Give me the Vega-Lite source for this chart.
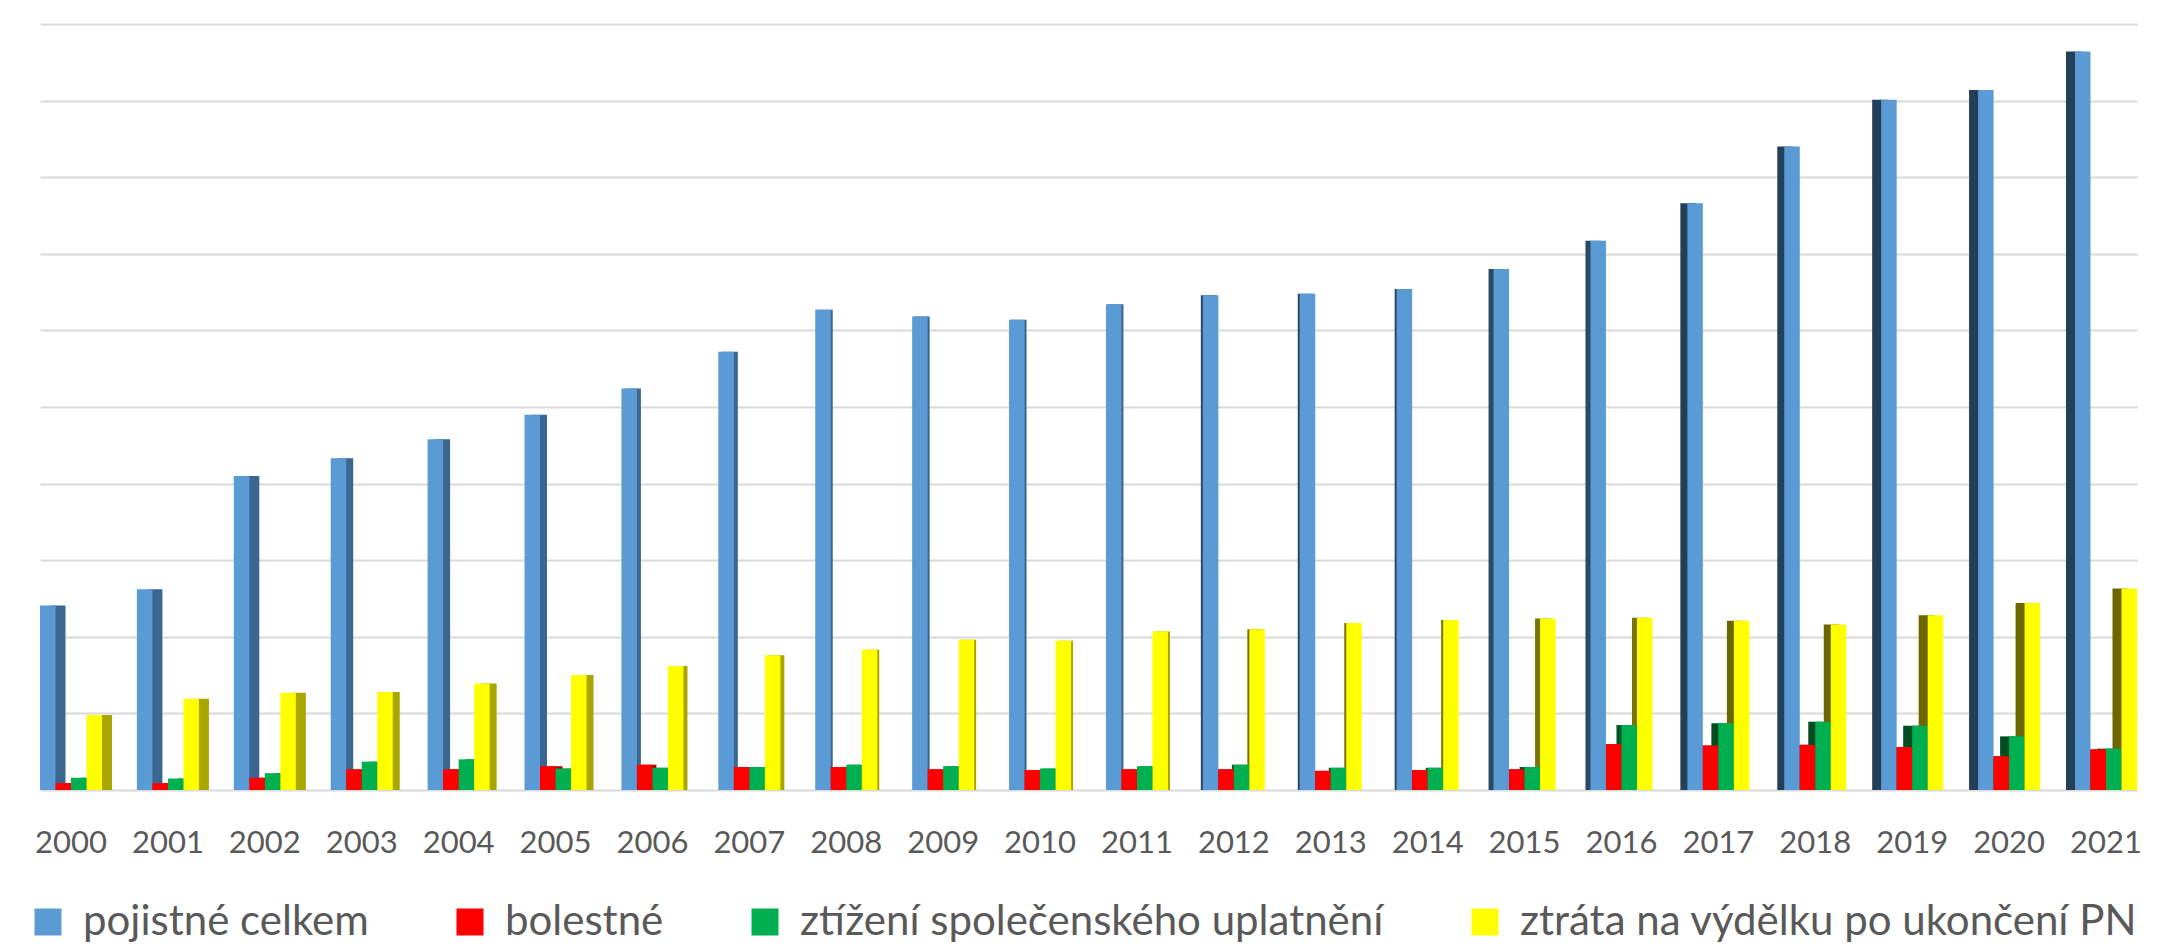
{
  "$schema": "https://vega.github.io/schema/vega-lite/v6.json",
  "width": 2097,
  "height": 766,
  "autosize": {"type": "none"},
  "padding": {"left": 40, "top": 24, "right": 20, "bottom": 156},
  "background": "white",
  "config": {"view": {"stroke": null}, "font": "Lato"},
  "datasets": {
    "d": [
      {"year": 2000, "series": "pojistné celkem", "value": 2.41},
      {"year": 2001, "series": "pojistné celkem", "value": 2.62},
      {"year": 2002, "series": "pojistné celkem", "value": 4.10},
      {"year": 2003, "series": "pojistné celkem", "value": 4.33},
      {"year": 2004, "series": "pojistné celkem", "value": 4.58},
      {"year": 2005, "series": "pojistné celkem", "value": 4.90},
      {"year": 2006, "series": "pojistné celkem", "value": 5.24},
      {"year": 2007, "series": "pojistné celkem", "value": 5.72},
      {"year": 2008, "series": "pojistné celkem", "value": 6.27},
      {"year": 2009, "series": "pojistné celkem", "value": 6.18},
      {"year": 2010, "series": "pojistné celkem", "value": 6.14},
      {"year": 2011, "series": "pojistné celkem", "value": 6.34},
      {"year": 2012, "series": "pojistné celkem", "value": 6.46},
      {"year": 2013, "series": "pojistné celkem", "value": 6.48},
      {"year": 2014, "series": "pojistné celkem", "value": 6.54},
      {"year": 2015, "series": "pojistné celkem", "value": 6.80},
      {"year": 2016, "series": "pojistné celkem", "value": 7.17},
      {"year": 2017, "series": "pojistné celkem", "value": 7.66},
      {"year": 2018, "series": "pojistné celkem", "value": 8.40},
      {"year": 2019, "series": "pojistné celkem", "value": 9.01},
      {"year": 2020, "series": "pojistné celkem", "value": 9.14},
      {"year": 2021, "series": "pojistné celkem", "value": 9.64},
      {"year": 2000, "series": "bolestné", "value": 0.09},
      {"year": 2001, "series": "bolestné", "value": 0.09},
      {"year": 2002, "series": "bolestné", "value": 0.16},
      {"year": 2003, "series": "bolestné", "value": 0.27},
      {"year": 2004, "series": "bolestné", "value": 0.27},
      {"year": 2005, "series": "bolestné", "value": 0.31},
      {"year": 2006, "series": "bolestné", "value": 0.33},
      {"year": 2007, "series": "bolestné", "value": 0.30},
      {"year": 2008, "series": "bolestné", "value": 0.30},
      {"year": 2009, "series": "bolestné", "value": 0.27},
      {"year": 2010, "series": "bolestné", "value": 0.26},
      {"year": 2011, "series": "bolestné", "value": 0.27},
      {"year": 2012, "series": "bolestné", "value": 0.27},
      {"year": 2013, "series": "bolestné", "value": 0.25},
      {"year": 2014, "series": "bolestné", "value": 0.26},
      {"year": 2015, "series": "bolestné", "value": 0.27},
      {"year": 2016, "series": "bolestné", "value": 0.60},
      {"year": 2017, "series": "bolestné", "value": 0.58},
      {"year": 2018, "series": "bolestné", "value": 0.59},
      {"year": 2019, "series": "bolestné", "value": 0.56},
      {"year": 2020, "series": "bolestné", "value": 0.44},
      {"year": 2021, "series": "bolestné", "value": 0.53},
      {"year": 2000, "series": "ztížení společenského uplatnění", "value": 0.16},
      {"year": 2001, "series": "ztížení společenského uplatnění", "value": 0.15},
      {"year": 2002, "series": "ztížení společenského uplatnění", "value": 0.22},
      {"year": 2003, "series": "ztížení společenského uplatnění", "value": 0.37},
      {"year": 2004, "series": "ztížení společenského uplatnění", "value": 0.40},
      {"year": 2005, "series": "ztížení společenského uplatnění", "value": 0.28},
      {"year": 2006, "series": "ztížení společenského uplatnění", "value": 0.29},
      {"year": 2007, "series": "ztížení společenského uplatnění", "value": 0.30},
      {"year": 2008, "series": "ztížení společenského uplatnění", "value": 0.33},
      {"year": 2009, "series": "ztížení společenského uplatnění", "value": 0.31},
      {"year": 2010, "series": "ztížení společenského uplatnění", "value": 0.28},
      {"year": 2011, "series": "ztížení společenského uplatnění", "value": 0.31},
      {"year": 2012, "series": "ztížení společenského uplatnění", "value": 0.33},
      {"year": 2013, "series": "ztížení společenského uplatnění", "value": 0.29},
      {"year": 2014, "series": "ztížení společenského uplatnění", "value": 0.29},
      {"year": 2015, "series": "ztížení společenského uplatnění", "value": 0.30},
      {"year": 2016, "series": "ztížení společenského uplatnění", "value": 0.85},
      {"year": 2017, "series": "ztížení společenského uplatnění", "value": 0.87},
      {"year": 2018, "series": "ztížení společenského uplatnění", "value": 0.89},
      {"year": 2019, "series": "ztížení společenského uplatnění", "value": 0.84},
      {"year": 2020, "series": "ztížení společenského uplatnění", "value": 0.70},
      {"year": 2021, "series": "ztížení společenského uplatnění", "value": 0.54},
      {"year": 2000, "series": "ztráta na výdělku po ukončení PN", "value": 0.98},
      {"year": 2001, "series": "ztráta na výdělku po ukončení PN", "value": 1.19},
      {"year": 2002, "series": "ztráta na výdělku po ukončení PN", "value": 1.27},
      {"year": 2003, "series": "ztráta na výdělku po ukončení PN", "value": 1.28},
      {"year": 2004, "series": "ztráta na výdělku po ukončení PN", "value": 1.39},
      {"year": 2005, "series": "ztráta na výdělku po ukončení PN", "value": 1.50},
      {"year": 2006, "series": "ztráta na výdělku po ukončení PN", "value": 1.62},
      {"year": 2007, "series": "ztráta na výdělku po ukončení PN", "value": 1.76},
      {"year": 2008, "series": "ztráta na výdělku po ukončení PN", "value": 1.83},
      {"year": 2009, "series": "ztráta na výdělku po ukončení PN", "value": 1.96},
      {"year": 2010, "series": "ztráta na výdělku po ukončení PN", "value": 1.95},
      {"year": 2011, "series": "ztráta na výdělku po ukončení PN", "value": 2.07},
      {"year": 2012, "series": "ztráta na výdělku po ukončení PN", "value": 2.10},
      {"year": 2013, "series": "ztráta na výdělku po ukončení PN", "value": 2.18},
      {"year": 2014, "series": "ztráta na výdělku po ukončení PN", "value": 2.22},
      {"year": 2015, "series": "ztráta na výdělku po ukončení PN", "value": 2.24},
      {"year": 2016, "series": "ztráta na výdělku po ukončení PN", "value": 2.25},
      {"year": 2017, "series": "ztráta na výdělku po ukončení PN", "value": 2.21},
      {"year": 2018, "series": "ztráta na výdělku po ukončení PN", "value": 2.16},
      {"year": 2019, "series": "ztráta na výdělku po ukončení PN", "value": 2.28},
      {"year": 2020, "series": "ztráta na výdělku po ukončení PN", "value": 2.44},
      {"year": 2021, "series": "ztráta na výdělku po ukončení PN", "value": 2.63}
    ]
  },
  "data": {"name": "d"},
  "encoding": {
    "x": {
      "field": "year", "type": "ordinal",
      "scale": {"paddingInner": 0.36, "paddingOuter": 0},
      "axis": {"title": null, "domain": false, "ticks": false, "labelAngle": 0, "labelFont": "Lato", "labelFontSize": 31, "labelColor": "#595959", "labelPadding": 38}
    },
    "y": {
      "field": "value", "type": "quantitative",
      "scale": {"domain": [0, 10], "nice": false},
      "axis": {"title": null, "domain": false, "ticks": false, "labels": false, "grid": true, "gridColor": "#d9d9d9", "gridWidth": 2, "values": [0, 1, 2, 3, 4, 5, 6, 7, 8, 9, 10]}
    }
  },
  "resolve": {"scale": {"color": "independent", "xOffset": "independent"}, "legend": {"color": "independent"}},
  "layer": [
    {
      "transform": [{"filter": "datum.year <= 2002"}],
      "mark": {"type": "bar"},
      "encoding": {
        "xOffset": {"field": "series", "type": "nominal", "scale": {"domain": ["pojistné celkem", "bolestné", "ztížení společenského uplatnění", "ztráta na výdělku po ukončení PN"], "range": [10, 72.02], "paddingInner": 0, "paddingOuter": 0}},
        "color": {"field": "series", "type": "nominal", "scale": {"domain": ["pojistné celkem", "bolestné", "ztížení společenského uplatnění", "ztráta na výdělku po ukončení PN"], "range": ["#3a6690", "#b00000", "#007a38", "#aaa600"]}, "legend": null}
      }
    },
    {
      "transform": [{"filter": "datum.year >= 2003 && datum.year <= 2005"}],
      "mark": {"type": "bar"},
      "encoding": {
        "xOffset": {"field": "series", "type": "nominal", "scale": {"domain": ["pojistné celkem", "bolestné", "ztížení společenského uplatnění", "ztráta na výdělku po ukončení PN"], "range": [7, 69.02], "paddingInner": 0, "paddingOuter": 0}},
        "color": {"field": "series", "type": "nominal", "scale": {"domain": ["pojistné celkem", "bolestné", "ztížení společenského uplatnění", "ztráta na výdělku po ukončení PN"], "range": ["#3a6690", "#b00000", "#007a38", "#aaa600"]}, "legend": null}
      }
    },
    {
      "transform": [{"filter": "datum.year >= 2006 && datum.year <= 2007"}],
      "mark": {"type": "bar"},
      "encoding": {
        "xOffset": {"field": "series", "type": "nominal", "scale": {"domain": ["pojistné celkem", "bolestné", "ztížení společenského uplatnění", "ztráta na výdělku po ukončení PN"], "range": [4, 66.02], "paddingInner": 0, "paddingOuter": 0}},
        "color": {"field": "series", "type": "nominal", "scale": {"domain": ["pojistné celkem", "bolestné", "ztížení společenského uplatnění", "ztráta na výdělku po ukončení PN"], "range": ["#3a6690", "#b00000", "#007a38", "#aaa600"]}, "legend": null}
      }
    },
    {
      "transform": [{"filter": "datum.year >= 2008 && datum.year <= 2011"}],
      "mark": {"type": "bar"},
      "encoding": {
        "xOffset": {"field": "series", "type": "nominal", "scale": {"domain": ["pojistné celkem", "bolestné", "ztížení společenského uplatnění", "ztráta na výdělku po ukončení PN"], "range": [2, 64.02], "paddingInner": 0, "paddingOuter": 0}},
        "color": {"field": "series", "type": "nominal", "scale": {"domain": ["pojistné celkem", "bolestné", "ztížení společenského uplatnění", "ztráta na výdělku po ukončení PN"], "range": ["#3a6690", "#b00000", "#007a38", "#aaa600"]}, "legend": null}
      }
    },
    {
      "transform": [{"filter": "datum.year >= 2012 && datum.year <= 2014"}],
      "mark": {"type": "bar"},
      "encoding": {
        "xOffset": {"field": "series", "type": "nominal", "scale": {"domain": ["pojistné celkem", "bolestné", "ztížení společenského uplatnění", "ztráta na výdělku po ukončení PN"], "range": [-2, 60.02], "paddingInner": 0, "paddingOuter": 0}},
        "color": {"field": "series", "type": "nominal", "scale": {"domain": ["pojistné celkem", "bolestné", "ztížení společenského uplatnění", "ztráta na výdělku po ukončení PN"], "range": ["#2a4a68", "#900000", "#005a28", "#7a7400"]}, "legend": null}
      }
    },
    {
      "transform": [{"filter": "datum.year >= 2015 && datum.year <= 2016"}],
      "mark": {"type": "bar"},
      "encoding": {
        "xOffset": {"field": "series", "type": "nominal", "scale": {"domain": ["pojistné celkem", "bolestné", "ztížení společenského uplatnění", "ztráta na výdělku po ukončení PN"], "range": [-5, 57.02], "paddingInner": 0, "paddingOuter": 0}},
        "color": {"field": "series", "type": "nominal", "scale": {"domain": ["pojistné celkem", "bolestné", "ztížení společenského uplatnění", "ztráta na výdělku po ukončení PN"], "range": ["#2a4a68", "#900000", "#005a28", "#7a7400"]}, "legend": null}
      }
    },
    {
      "transform": [{"filter": "datum.year >= 2017 && datum.year <= 2018"}],
      "mark": {"type": "bar"},
      "encoding": {
        "xOffset": {"field": "series", "type": "nominal", "scale": {"domain": ["pojistné celkem", "bolestné", "ztížení společenského uplatnění", "ztráta na výdělku po ukončení PN"], "range": [-7, 55.02], "paddingInner": 0, "paddingOuter": 0}},
        "color": {"field": "series", "type": "nominal", "scale": {"domain": ["pojistné celkem", "bolestné", "ztížení společenského uplatnění", "ztráta na výdělku po ukončení PN"], "range": ["#243f58", "#800000", "#004d22", "#6b6600"]}, "legend": null}
      }
    },
    {
      "transform": [{"filter": "datum.year >= 2019"}],
      "mark": {"type": "bar"},
      "encoding": {
        "xOffset": {"field": "series", "type": "nominal", "scale": {"domain": ["pojistné celkem", "bolestné", "ztížení společenského uplatnění", "ztráta na výdělku po ukončení PN"], "range": [-9, 53.02], "paddingInner": 0, "paddingOuter": 0}},
        "color": {"field": "series", "type": "nominal", "scale": {"domain": ["pojistné celkem", "bolestné", "ztížení společenského uplatnění", "ztráta na výdělku po ukončení PN"], "range": ["#243f58", "#800000", "#004d22", "#6b6600"]}, "legend": null}
      }
    },
    {
      "mark": {"type": "bar"},
      "encoding": {
        "xOffset": {"field": "series", "type": "nominal", "scale": {"domain": ["pojistné celkem", "bolestné", "ztížení společenského uplatnění", "ztráta na výdělku po ukončení PN"], "range": [0, 62.02], "paddingInner": 0, "paddingOuter": 0}},
        "color": {
          "field": "series", "type": "nominal",
          "scale": {"domain": ["pojistné celkem", "bolestné", "ztížení společenského uplatnění", "ztráta na výdělku po ukončení PN"], "range": ["#5b9bd5", "#ff0000", "#00b050", "#ffff00"]},
          "legend": {"orient": "none", "legendX": -13, "legendY": 877, "direction": "horizontal", "title": null, "symbolType": "square", "symbolSize": 729, "symbolStrokeWidth": 0, "symbolOpacity": 1, "labelFont": "Lato", "labelFontSize": 42, "labelColor": "#595959", "labelOffset": 14, "columnPadding": 80, "padding": 0, "labelLimit": 2000}
        }
      }
    }
  ]
}
